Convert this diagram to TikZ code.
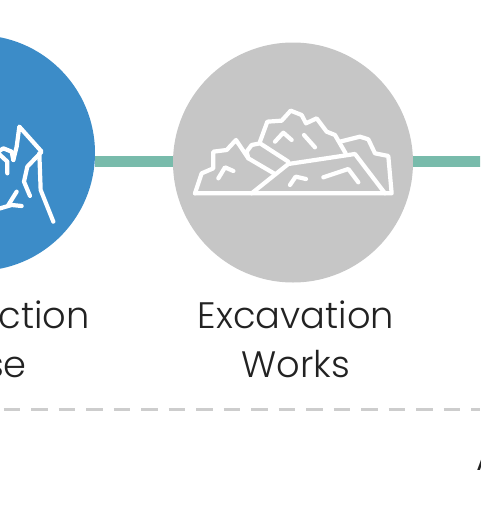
\documentclass[tikz,border=0pt]{standalone}
\usepackage{fontspec}
\setmainfont{Poppins Light}
\definecolor{bluec}{HTML}{3C8CC8}
\definecolor{greyc}{HTML}{C6C6C6}
\definecolor{tealc}{HTML}{78BBAB}
\definecolor{dashc}{HTML}{CDCDCD}
\definecolor{textc}{HTML}{222222}
\tikzset{
  stage/.style={circle,draw=none,inner sep=0pt,minimum size=#1},
  link/.style={draw=tealc,line width=11pt},
  icon/.style={draw=white,line width=4.2pt,line join=round,line cap=round},
  lab/.style={font=\fontsize{36.8}{48.5}\selectfont,text=textc,inner sep=0pt}
}
\begin{document}
\begin{tikzpicture}[x=1pt,y=-1pt]
\useasboundingbox (0,0) rectangle (480,520);
\clip (0,0) rectangle (480,520);
\coordinate (rightend) at (490,161.5);
\coordinate (dl) at (3.5,409.5);
\coordinate (dr) at (480,409.5);
\node[stage=240pt,fill=greyc] (exc) at (293,162.5) {};
\node[stage=236pt,fill=bluec] (con) at (-23,153) {};
\draw[link] (con.east) ++(0,8.5) coordinate (a) -- (a -| exc.west);
\draw[link] (exc.east |- rightend) -- (rightend);
\draw[dash pattern=on 16.5pt off 11pt,draw=dashc,line width=2.5pt] (dl) -- (dr);
% excavation icon
\begin{scope}[shift={(180,90)},x=0.3333pt,y=-0.3333pt]
\draw[icon] (45,310) -- (635,310) -- (625,198) -- (585,190) -- (565,148) -- (540,140) -- (480,155);
\draw[icon] (45,310) -- (65,250) -- (100,235) -- (100,185) -- (140,180) -- (168,150) -- (205,205) -- (285,252);
\draw[icon] (205,205) -- (200,185) -- (215,165) -- (240,160) -- (325,215);
\draw[icon] (240,155) -- (262,95) -- (305,92) -- (332,62) -- (365,75) -- (378,100) -- (410,85) -- (440,125) -- (465,135) -- (497,190);
\draw[icon] (215,310) -- (325,222) -- (525,192) -- (615,310);
\draw[icon] (115,265) -- (135,232) -- (160,243);
\draw[icon] (285,155) -- (310,128) -- (335,150);
\draw[icon] (372,135) -- (405,172);
\draw[icon] (330,285) -- (347,260) -- (378,267);
\draw[icon] (430,262) -- (505,237) -- (535,277);
\end{scope}
% construction icon
\begin{scope}[shift={(0,110)},x=0.3333pt,y=-0.3333pt]
\draw[icon] (160,335) -- (122,240) -- (118,130);
\draw[icon] (40,150) -- (50,110) -- (58,50) -- (125,125) -- (82,170) -- (72,215) -- (90,258);
\draw[icon] (40,150) -- (35,125) -- (10,115) -- (-5,125);
\draw[icon] (-5,130) -- (22,155) -- (22,190);
\draw[icon] (-10,298) -- (35,285) -- (65,288);
\draw[icon] (25,285) -- (50,245);
\end{scope}
\node[lab,anchor=base] (t1) at (296,328) {Excavation};
\node[lab,anchor=base] (t1b) at (296,377) {Works};
\node[lab,anchor=base east] (t2) at (90,328) {ction};
\node[lab,anchor=base east] (t3) at (27,377) {se};
\node[lab,anchor=base west] (t4) at (476.5,470) {A};
\end{tikzpicture}
\end{document}
